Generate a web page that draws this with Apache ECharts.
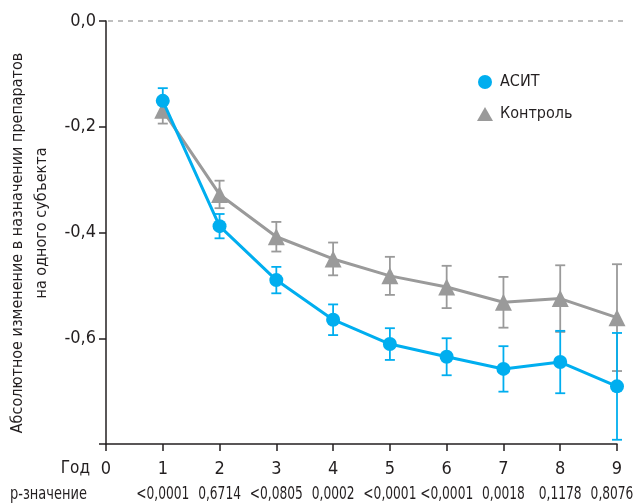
<!DOCTYPE html>
<html><head><meta charset="utf-8">
<script src="https://cdn.jsdelivr.net/npm/echarts@6/dist/echarts.min.js"></script>
<style>html,body{margin:0;padding:0;background:#fff}#c{width:638px;height:504px}</style>
</head><body><div id="c"></div>
<script>
const years = [1,2,3,4,5,6,7,8,9];
const pValues = ['<0,0001','0,6714','<0,0805','0,0002','<0,0001','<0,0001','0,0018','0,1178','0,8076'];
const acitMean = [-0.151,-0.388,-0.490,-0.565,-0.611,-0.635,-0.658,-0.645,-0.691];
const acitErr  = [0.024,0.023,0.025,0.029,0.030,0.035,0.043,0.059,0.101];
const ctrlMean = [-0.169,-0.328,-0.408,-0.450,-0.482,-0.503,-0.532,-0.525,-0.561];
const ctrlErr  = [0.025,0.026,0.028,0.031,0.036,0.040,0.048,0.063,0.101];

const FONT = "'DejaVu Sans Condensed','Liberation Sans Narrow',Roboto,sans-serif";
const TXT = '#231f20';
const BLUE = '#00aeef';
const GRAY = '#9a9a9a';

function errData(mean, err){ return years.map((x,i)=>[x, mean[i]-err[i], mean[i]+err[i]]); }
function errSeries(name, mean, err, color){
  return {
    type:'custom', name:name+'_err', silent:true, z:1,
    data: errData(mean, err),
    renderItem: function(params, api){
      const x = api.value(0);
      const lo = api.coord([x, api.value(1)]);
      const hi = api.coord([x, api.value(2)]);
      const w = 5;
      const st = {stroke:color, lineWidth:1.8};
      return {type:'group', children:[
        {type:'line', shape:{x1:lo[0],y1:lo[1],x2:hi[0],y2:hi[1]}, style:st},
        {type:'line', shape:{x1:lo[0]-w,y1:lo[1],x2:lo[0]+w,y2:lo[1]}, style:st},
        {type:'line', shape:{x1:hi[0]-w,y1:hi[1],x2:hi[0]+w,y2:hi[1]}, style:st}
      ]};
    }
  };
}

const chart = echarts.init(document.getElementById('c'), null, {renderer:'canvas'});
chart.setOption({
  animation:false,
  textStyle:{fontFamily:FONT},
  grid:{left:106, top:21, right:21, bottom:60, containLabel:false},
  xAxis:{
    type:'value', min:0, max:9, interval:1,
    axisLine:{onZero:false, lineStyle:{color:TXT, width:1.5}},
    axisTick:{show:true, length:7, lineStyle:{color:TXT, width:1.5}},
    splitLine:{show:false},
    axisLabel:{
      margin:16, fontFamily:FONT, fontSize:18, color:TXT,
      formatter:function(v){ return String(Math.round(v)); }
    }
  },
  yAxis:{
    type:'value', min:-0.8, max:0, interval:0.2,
    axisLine:{show:true, onZero:false, lineStyle:{color:TXT, width:1.5}},
    axisTick:{show:true, length:7, lineStyle:{color:TXT, width:1.5}},
    splitLine:{show:false},
    axisLabel:{
      fontFamily:FONT, fontSize:18, color:TXT, margin:10,
      formatter:function(v){ if (Math.abs(v+0.8)<1e-6) return ''; return v.toFixed(1).replace('.',','); }
    }
  },
  legend:{
    orient:'vertical', left:472, top:69, itemGap:16, itemWidth:16, itemHeight:14,
    textStyle:{fontFamily:FONT, fontSize:16, color:TXT, padding:[0,0,0,2]},
    data:[{name:'АСИТ', icon:'circle'},{name:'Контроль', icon:'triangle'}]
  },
  series:[
    errSeries('ctrl', ctrlMean, ctrlErr, GRAY),
    errSeries('acit', acitMean, acitErr, BLUE),
    {
      name:'Контроль', type:'line', z:3,
      data: years.map((x,i)=>[x, ctrlMean[i]]),
      symbol:'triangle', symbolSize:17, showAllSymbol:true,
      lineStyle:{color:GRAY, width:3}, itemStyle:{color:GRAY}
    },
    {
      name:'АСИТ', type:'line', z:4,
      data: years.map((x,i)=>[x, acitMean[i]]),
      symbol:'circle', symbolSize:14, showAllSymbol:true,
      lineStyle:{color:BLUE, width:3}, itemStyle:{color:BLUE}
    }
  ]
});

// Extra texts and the dashed zero line, positioned through the chart's own scales
const y0 = chart.convertToPixel({yAxisIndex:0}, 0);
const x0 = chart.convertToPixel({xAxisIndex:0}, 0);
const axisY = chart.convertToPixel({yAxisIndex:0}, -0.8);
const graphics = [
  {type:'line', z:0, shape:{x1:x0+2, y1:y0, x2:627, y2:y0}, style:{stroke:'#aaaaaa', lineWidth:1.3, lineDash:[5,5]}},
  {type:'text', x:90, y:axisY+25, style:{text:'Год', font:'17px '+FONT, fill:TXT, textAlign:'right', textVerticalAlign:'middle'}},
  {type:'text', x:10, y:axisY+51, scaleX:0.85, style:{text:'p-значение', font:'17px '+FONT, fill:TXT, textAlign:'left', textVerticalAlign:'middle'}},
  {type:'text', x:10, y:243, rotation:Math.PI/2, style:{text:'Абсолютное изменение в назначении препаратов', font:'16px '+FONT, fill:TXT, textAlign:'center', textVerticalAlign:'top'}},
  {type:'text', x:34, y:223, rotation:Math.PI/2, style:{text:'на одного субъекта', font:'16px '+FONT, fill:TXT, textAlign:'center', textVerticalAlign:'top'}}
];
years.forEach((yr,i)=>{
  const px = Math.min(chart.convertToPixel({xAxisIndex:0}, yr), 612);
  graphics.push({type:'text', x:px, y:axisY+51, scaleX:0.8, style:{text:pValues[i], font:'17px '+FONT, fill:TXT, textAlign:'center', textVerticalAlign:'middle'}});
});
chart.setOption({graphic:graphics});
</script></body></html>
